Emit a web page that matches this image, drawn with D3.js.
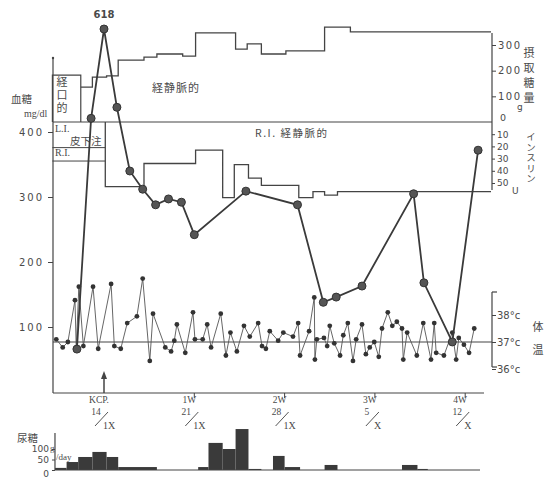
<!DOCTYPE html>
<html>
<head>
<meta charset="utf-8">
<script src="https://cdn.jsdelivr.net/npm/d3@7"></script>
<style>
body { margin: 0; background: #fff; }
text { font-family: "DejaVu Sans", sans-serif; fill: #4a4a4a; }
.jp { font-family: "Noto Sans CJK JP", sans-serif; }
.tw { font-family: "Liberation Serif", serif; }
</style>
</head>
<body>
<svg id="chart" width="552" height="481"></svg>
<script>
// blood sugar (mg/dl), day 0 = KCP 14/I
var bsDays   = [-2.1, -1, 0, 1, 2, 3, 4, 5, 6, 7, 11, 15, 17, 18, 20, 24, 24.8, 27, 29];
var bsValues = [66, 421, 618, 438, 340, 312, 288, 297, 292, 242, 309, 288, 138, 146, 163, 305, 168, 77, 372];

// body temperature (deg C)
var tempDays = [-3.7, -3.2, -2.8, -2.25, -2.15, -1.95, -1.6, -0.85, -0.45, 0.55,
  0.8, 1.3, 1.8, 2.55, 3.0, 3.55, 3.8, 4.75, 5.2, 5.45,
  5.65, 6.3, 6.9, 7.05, 7.65, 8.0, 8.3, 9.05, 9.45, 9.8,
  10.3, 10.85, 11.3, 11.95, 12.25, 12.55, 12.85, 13.5, 13.9, 14.65,
  15.05, 15.2, 15.9, 16.3, 16.35, 16.5, 17.05, 17.3, 17.5, 17.85,
  18.3, 18.55, 18.9, 19.3, 19.55, 20.0, 20.3, 20.6, 20.95, 21.3,
  21.55, 22.0, 22.35, 22.7, 23.1, 23.2, 23.5, 24.25, 24.75, 25.35,
  25.6, 25.75, 26.35, 27.0, 27.3, 27.5, 27.9, 28.3, 28.7];
var tempValues = [37.1, 36.8, 37.0, 38.55, 36.75, 39.05, 36.85, 39.05, 36.75, 39.15,
  36.85, 36.75, 37.7, 37.95, 39.35, 36.3, 38.05, 36.8, 36.65, 37.05,
  37.65, 36.6, 38.1, 37.1, 37.1, 37.65, 36.8, 38.05, 36.5, 37.35,
  36.65, 37.6, 37.2, 37.7, 36.85, 36.75, 37.4, 37.05, 37.35, 37.2,
  37.7, 36.5, 37.4, 38.65, 36.35, 37.1, 37.15, 36.85, 37.6, 36.95,
  36.5, 37.25, 37.7, 36.3, 37.1, 37.65, 36.55, 36.8, 37.0, 36.45,
  37.5, 38.1, 37.6, 37.75, 37.5, 36.35, 37.35, 36.5, 37.7, 36.35,
  37.7, 36.6, 36.5, 37.35, 36.35, 37.15, 36.9, 36.6, 37.5];

// sugar intake (g): oral, then intravenous steps
var oralDays = [-4, -1.8];
var oralValue = 183;
var ivDays   = [-1.8, -0.9, 0.2, 1.1, 3.1, 4.1, 6.1, 7.1, 10.2, 11.1, 12.2, 14.1, 17.1, 19.1, 30];
var ivValues = [136, 175, 180, 241, 253, 265, 257, 347, 284, 304, 265, 277, 370, 351];

// insulin (U): subcutaneous L.I. / R.I., then R.I. intravenous steps
var scDays = [-4, 0.1];
var scLI = 21, scRI = 32;
var riDays   = [0.1, 3.1, 7.1, 9.2, 10.1, 11.2, 12.2, 15.1, 16.2, 17.1, 18.1, 30];
var riValues = [53, 34, 23, 62, 35, 46, 52, 62, 57, 60, 57];

// urine sugar (g/day)
var urStart  = [-3.8, -2.9, -2, -0.9, 0.2, 1.1, 7.3, 8.1, 9.2, 10.2, 11.2, 13.1, 14, 17.1, 23.1, 24.3];
var urEnd    = [-2.9, -2, -0.9, 0.2, 1.1, 4.1, 8.1, 9.2, 10.2, 11.2, 12.2, 14, 15.2, 18.1, 24.3, 25.1];
var urValues = [10, 38, 62, 86, 62, 14, 14, 129, 100, 195, 5, 67, 14, 24, 24, 5];

// week labels
var weekDays  = [0, 7, 14, 21, 28];
var weekNames = ["KCP.", "1W", "2W", "3W", "4W"];
var weekDates = ["14", "21", "28", "5", "12"];
var weekMonth = ["1X", "1X", "1X", "X", "X"];

var svg = d3.select("#chart");
var ink = "#444";

var x = d3.scaleLinear().domain([-4, 30]).range([52.4, 491]);
var yBs = d3.scaleLinear().domain([0, 450, 618]).range([392, 99.5, 29]);
var yFood = d3.scaleLinear().domain([0, 300]).range([122, 45]);
var yIns = d3.scaleLinear().domain([0, 50]).range([122, 183]);
var yTemp = d3.scaleLinear().domain([36, 38]).range([369, 315]);
var yUr = d3.scaleLinear().domain([0, 100]).range([470, 449]);

function hline(x1, x2, y, w) {
  svg.append("line").attr("x1", x1).attr("x2", x2).attr("y1", y).attr("y2", y)
    .attr("stroke", ink).attr("stroke-width", w || 1.2);
}
function vline(xx, y1, y2, w) {
  svg.append("line").attr("x1", xx).attr("x2", xx).attr("y1", y1).attr("y2", y2)
    .attr("stroke", ink).attr("stroke-width", w || 1.2);
}
// vertical Japanese label: one text element, top of first glyph at yTop
function vtext(str, cx, yTop, step, size) {
  svg.append("text").attr("class", "jp").attr("x", cx).attr("y", yTop)
    .attr("font-size", size).attr("letter-spacing", step - size)
    .style("writing-mode", "vertical-rl").text(str);
}

// frame
var left = 53, right = 492;
vline(left, 58, 393);
svg.append("circle").attr("cx", left).attr("cy", 58).attr("r", 1.2).attr("fill", ink);
hline(left, 484, 393);
hline(left, right, yFood(0));
vline(right, 33, 190);
vline(right, 292, 367);
hline(right, right + 5, 292);
hline(right, right + 5, 367);

// blood sugar axis
var gBs = svg.append("g").attr("transform", "translate(" + left + ",0)")
  .call(d3.axisLeft(yBs).tickValues([100, 200, 300, 400]).tickSize(5).tickPadding(4));
gBs.select(".domain").remove();
gBs.selectAll("line").attr("stroke", ink);
gBs.selectAll("text").attr("font-size", 10).attr("letter-spacing", 2).attr("fill", "#555");
svg.append("text").attr("class", "jp").attr("x", 11).attr("y", 103).attr("font-size", 10.5).text("血糖");
svg.append("text").attr("class", "tw").attr("x", 24).attr("y", 117).attr("font-size", 10).text("mg/dl");

// intake axis (right, top)
var gFood = svg.append("g").attr("transform", "translate(" + right + ",0)")
  .call(d3.axisRight(yFood).tickValues([100, 200, 300]).tickSize(4).tickPadding(2));
gFood.select(".domain").remove();
gFood.selectAll("line").attr("stroke", ink);
gFood.selectAll("text").attr("font-size", 10).attr("letter-spacing", 1.5).attr("fill", "#555");
svg.append("text").attr("x", 500).attr("y", 121).attr("font-size", 9.5).attr("fill", "#555").text("0");
svg.append("text").attr("x", 517).attr("y", 110).attr("font-size", 9).attr("fill", "#555").text("g");
vtext("摂取糖量", 529, 47, 15, 11);

// insulin axis
var gIns = svg.append("g").attr("transform", "translate(" + right + ",0)")
  .call(d3.axisRight(yIns).tickValues([10, 20, 30, 40, 50]).tickSize(3).tickPadding(2));
gIns.select(".domain").remove();
gIns.selectAll("line").attr("stroke", ink);
gIns.selectAll("text").attr("font-size", 9).attr("fill", "#555");
svg.append("text").attr("x", 512).attr("y", 194).attr("font-size", 9).attr("fill", "#555").text("U");
vtext("インスリン", 531, 132, 10.5, 9.5);

// temperature axis
var gT = svg.append("g").attr("transform", "translate(" + right + ",0)")
  .call(d3.axisRight(yTemp).tickValues([36, 37, 38]).tickSize(4).tickPadding(1)
    .tickFormat(function (d) { return d + "°c"; }));
gT.select(".domain").remove();
gT.selectAll("line").attr("stroke", ink);
gT.selectAll("text").attr("font-size", 10).attr("fill", "#555");
vtext("体温", 538, 321, 23, 11);

// 37 deg reference line
hline(left, right, yTemp(37));

// intake: oral box and IV steps
svg.append("path")
  .attr("d", "M" + x(oralDays[0]) + "," + yFood(0) + "V" + yFood(oralValue) +
    "H" + x(oralDays[1]) + "V" + yFood(0))
  .attr("fill", "none").attr("stroke", ink).attr("stroke-width", 1.2);
vtext("経口的", 62, 76, 13, 11);

var ivPts = [];
ivValues.forEach(function (v, i) { ivPts.push([ivDays[i], v], [ivDays[i + 1], v]); });
svg.append("path")
  .attr("d", d3.line().x(function (d) { return x(d[0]); }).y(function (d) { return yFood(d[1]); })(ivPts))
  .attr("fill", "none").attr("stroke", ink).attr("stroke-width", 1.3);
svg.append("text").attr("class", "jp").attr("x", 152).attr("y", 92).attr("font-size", 11)
  .attr("letter-spacing", 1).text("経静脈的");

// insulin: subcutaneous lines and IV steps
hline(x(scDays[0]), x(scDays[1]), yIns(scLI), 1);
hline(x(scDays[0]), x(scDays[1]), yIns(scRI), 1);
svg.append("text").attr("class", "tw").attr("x", 55).attr("y", 132).attr("font-size", 10).text("L.I.");
svg.append("text").attr("class", "jp").attr("x", 70).attr("y", 145).attr("font-size", 10.5).text("皮下注");
svg.append("text").attr("class", "tw").attr("x", 55).attr("y", 156).attr("font-size", 10).text("R.I.");

var riPts = [[riDays[0], 0]];
riValues.forEach(function (v, i) { riPts.push([riDays[i], v], [riDays[i + 1], v]); });
svg.append("path")
  .attr("d", d3.line().x(function (d) { return x(d[0]); }).y(function (d) { return yIns(d[1]); })(riPts))
  .attr("fill", "none").attr("stroke", ink).attr("stroke-width", 1.3);
svg.append("text").attr("class", "jp").attr("x", 255).attr("y", 137).attr("font-size", 10.5)
  .attr("letter-spacing", 1.5).text("R.I. 経静脈的");

// temperature
var temps = tempDays.map(function (d, i) { return [d, tempValues[i]]; });
svg.append("path")
  .attr("d", d3.line().x(function (d) { return x(d[0]); }).y(function (d) { return yTemp(d[1]); })(temps))
  .attr("fill", "none").attr("stroke", "#555").attr("stroke-width", 0.9);
svg.selectAll(".tdot").data(temps).enter().append("circle")
  .attr("class", "tdot")
  .attr("cx", function (d) { return x(d[0]); })
  .attr("cy", function (d) { return yTemp(d[1]); })
  .attr("r", 2.4).attr("fill", "#333");

// blood sugar
var bs = bsDays.map(function (d, i) { return [d, bsValues[i]]; });
svg.append("path")
  .attr("d", d3.line().x(function (d) { return x(d[0]); }).y(function (d) { return yBs(d[1]); })(bs))
  .attr("fill", "none").attr("stroke", "#3a3a3a").attr("stroke-width", 1.8);
svg.selectAll(".bdot").data(bs).enter().append("circle")
  .attr("class", "bdot")
  .attr("cx", function (d) { return x(d[0]); })
  .attr("cy", function (d) { return yBs(d[1]); })
  .attr("r", 4).attr("fill", "#555").attr("stroke", "#333").attr("stroke-width", 1);
var iMax = bsValues.indexOf(d3.max(bsValues));
svg.append("text").attr("x", x(bsDays[iMax])).attr("y", yBs(bsValues[iMax]) - 11)
  .attr("text-anchor", "middle").attr("font-size", 10).attr("font-weight", "bold")
  .attr("fill", "#222").text(bsValues[iMax]);

// KCP arrow
vline(x(0), 378, 393, 1.5);
svg.append("path").attr("d", "M" + (x(0) - 3) + ",379L" + x(0) + ",371L" + (x(0) + 3) + ",379Z").attr("fill", ink);

// week labels
weekDays.forEach(function (d, i) {
  var cx = x(d);
  if (i > 0) vline(cx, 393, 398, 1);
  svg.append("text").attr("class", "tw").attr("x", cx - 5).attr("y", 403).attr("text-anchor", "middle")
    .attr("font-size", 9.5).text(weekNames[i]);
  svg.append("text").attr("class", "tw").attr("x", cx - 8).attr("y", 415).attr("text-anchor", "middle")
    .attr("font-size", 9.5).text(weekDates[i]);
  svg.append("line").attr("x1", cx - 9).attr("y1", 426).attr("x2", cx + 4).attr("y2", 412)
    .attr("stroke", "#555").attr("stroke-width", 1);
  svg.append("text").attr("class", "tw").attr("x", cx - 1).attr("y", 429).attr("font-size", 10)
    .text(weekMonth[i]);
});

// urine sugar
var ur = urStart.map(function (s, i) { return { s: s, e: urEnd[i], v: urValues[i] }; });
svg.selectAll(".ubar").data(ur).enter().append("rect")
  .attr("class", "ubar")
  .attr("x", function (d) { return x(d.s); })
  .attr("width", function (d) { return x(d.e) - x(d.s); })
  .attr("y", function (d) { return yUr(d.v); })
  .attr("height", function (d) { return yUr(0) - yUr(d.v); })
  .attr("fill", "#3a3a3a");
var uLeft = x(urStart[0]);
hline(uLeft, 480, yUr(0));
vline(uLeft, 433, yUr(0));
var gUr = svg.append("g").attr("transform", "translate(" + uLeft + ",0)")
  .call(d3.axisLeft(yUr).tickValues([0, 50, 100]).tickSize(3).tickPadding(3));
gUr.select(".domain").remove();
gUr.selectAll("line").attr("stroke", ink);
gUr.selectAll("text").attr("font-size", 9).attr("fill", "#555");
gUr.selectAll("text").filter(function (d) { return d === 0; }).attr("dy", "0.7em");
svg.append("text").attr("class", "tw").attr("x", 50).attr("y", 451).attr("font-size", 9).text("g");
svg.append("text").attr("class", "tw").attr("x", 56).attr("y", 460).attr("font-size", 9).text("/day");
svg.append("text").attr("class", "jp").attr("x", 17).attr("y", 442).attr("font-size", 10.5).text("尿糖");
</script>
</body>
</html>
